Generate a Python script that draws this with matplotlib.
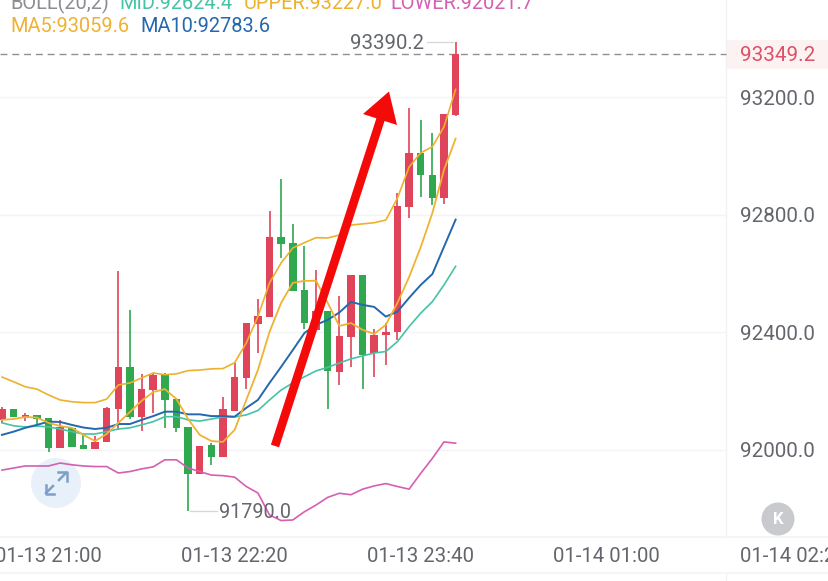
import matplotlib
matplotlib.use("Agg")
import matplotlib.pyplot as plt
from matplotlib.patches import Circle, Polygon, Rectangle

plt.rcParams['font.family'] = ['Roboto', 'DejaVu Sans']

opens = [92101,92138,92110,92119,92108,92005,92074,92015,92001,92025,
         92139,92282,92112,92203,92254,92171,92078,91916,92015,91974,
         92133,92244,92428,92453,92726,92703,92543,92408,92472,92264,
         92385,92596,92328,92390,92399,92828,93010,92937,92856,93139]
closes = [92137,92111,92119,92105,92005,92076,92010,92001,92027,92142,
          92282,92112,92208,92254,92169,92074,91916,92013,91974,92137,
          92246,92432,92455,92726,92700,92539,92432,92473,92267,92387,
          92596,92323,92392,92401,92831,93010,92935,92856,93144,93349]
highs = [92144,92138,92126,92119,92108,92101,92074,92058,92046,92146,
         92609,92476,92258,92261,92262,92175,92078,92013,92021,92178,
         92295,92432,92512,92814,92921,92768,92694,92612,92472,92523,
         92596,92596,92412,92431,92875,93163,93123,93078,93144,93390.2]
lows = [92091,92111,92096,92087,91992,92005,92008,92001,92001,92025,
        92067,92105,92062,92124,92074,92060,91790,91916,91947,91974,
        92133,92205,92330,92453,92652,92539,92410,92408,92137,92221,
        92280,92208,92246,92287,92375,92789,92860,92833,92836,93137]
ma5 = [92101,92104,92111,92109,92091,92080,92074,92050,92029,92053,
       92091,92128,92166,92196,92206,92172,92104,92050,92029,92026,
       92067,92169,92271,92401,92500,92568,92575,92575,92500,92421,
       92431,92408,92394,92425,92500,92588,92690,92806,92953,93059.6]
ma10 = [92050,92061,92074,92084,92095,92094,92084,92075,92070,92074,
        92087,92087,92101,92114,92129,92129,92120,92120,92114,92114,
        92112,92142,92169,92227,92282,92339,92397,92425,92442,92467,
        92503,92493,92486,92453,92470,92517,92561,92598,92691,92783.6]
mid = [92091,92081,92077,92080,92077,92070,92061,92053,92053,92061,
       92070,92074,92084,92095,92112,92112,92101,92097,92104,92111,
       92111,92118,92133,92169,92203,92227,92248,92268,92280,92295,
       92309,92319,92329,92334,92368,92419,92465,92504,92561,92624.4]
upper = [92247,92231,92214,92206,92186,92169,92163,92160,92160,92172,
         92220,92227,92244,92261,92255,92258,92269,92271,92275,92276,
         92296,92363,92453,92568,92636,92687,92705,92722,92721,92731,
         92765,92769,92773,92782,92857,92963,93011,93032,93100,93227.0]
lower = [91930,91937,91944,91944,91944,91954,91948,91944,91942,91942,
         91920,91925,91934,91941,91965,91965,91937,91925,91913,91911,
         91906,91874,91852,91777,91758,91760,91788,91811,91837,91851,
         91846,91865,91876,91884,91874,91865,91919,91970,92026,92021.7]
y_ticks = [92000, 92400, 92800, 93200]
x_tick_pos = [4, 20, 36, 52, 68]
x_tick_labels = ['01-13 21:00', '01-13 22:20', '01-13 23:40', '01-14 01:00', '01-14 02:20']
last_price = 93349.2
high_price = 93390.2
low_price = 91790.0

RED, GREEN = '#e0445a', '#2fa850'
C_UP, C_MA5, C_MA10, C_MID, C_LOW = '#ecb22e', '#efb233', '#2568ad', '#45c3a6', '#d55fb0'
GREY = '#63666c'
YOFF = 6.5   # label baseline nudge in price units

W, H = 829, 581
fig = plt.figure(figsize=(W/100, H/100), dpi=100, facecolor='white')

bg = fig.add_axes([0, 0, 1, 1], zorder=0)
bg.set_xlim(0, W); bg.set_ylim(H, 0); bg.axis('off')
bg.add_patch(Rectangle((726, 40), 103, 29, fc='#fdf2f2', ec='none'))
bg.plot([726, 726], [0, 537], color='#f1f2f4', lw=1)
bg.plot([726, 726], [573, H], color='#f1f2f4', lw=1)
bg.plot([0, W], [537, 537], color='#f3f4f6', lw=1.2)
bg.plot([0, W], [573, 573], color='#f3f4f6', lw=1.2)
bg.add_patch(Circle((56, 483), 25, fc='#e8f1fa', ec='none'))
bg.plot([46, 53], [493, 486], color='#7c9fc9', lw=1.8)
bg.plot([46, 46, 54], [485, 494, 494], color='#7c9fc9', lw=1.8)
bg.plot([59, 66], [480, 473], color='#7c9fc9', lw=1.8)
bg.plot([58, 67, 67], [472, 472, 481], color='#7c9fc9', lw=1.8)

ax = fig.add_axes([0, 0, 1, 1], zorder=1)
ax.patch.set_alpha(0)
ax.set_xlim(-0.172, 71.1)
ax.set_ylim(91552, 93532)
ax.axis('off')

for t in y_ticks:
    ax.plot([-0.172, (726-2)/11.63], [t, t], color='#f3f4f6', lw=1, zorder=1)
    ax.text((739.5-2)/11.63, t-YOFF, f'{t:.1f}', ha='left', va='center', fontsize=14.9, color=GREY)
ax.plot([-0.172, (726-2)/11.63], [last_price]*2, color='#8d8f94', lw=1, dashes=(5, 3.5), zorder=1)
ax.text((739.5-2)/11.63, last_price-YOFF, f'{last_price:.1f}', ha='left', va='center',
        fontsize=14.9, color='#dc5068')

idx = list(range(len(opens)))
for i, o, c, h, l in zip(idx, opens, closes, highs, lows):
    col = RED if c >= o else GREEN
    ax.vlines(i, l, h, color=col, lw=1.2, zorder=3)
    ax.bar(i, abs(c-o), bottom=min(o, c), width=0.64, color=col, lw=0, zorder=3)

ax.plot(idx, lower, color=C_LOW, lw=1.2, zorder=4)
ax.plot(idx, mid, color=C_MID, lw=1.2, zorder=4)
ax.plot(idx, ma10, color=C_MA10, lw=1.4, zorder=4)
ax.plot(idx, upper, color=C_UP, lw=1.2, zorder=4)
ax.plot(idx, ma5, color=C_MA5, lw=1.3, zorder=4)

for p, lab in zip(x_tick_pos, x_tick_labels):
    ax.text(p, 91552 + (581-556)*3.408 - 3, lab, ha='center', va='center', fontsize=14.7, color=GREY)

hi_i = highs.index(high_price)
lo_i = lows.index(low_price)
ax.plot([hi_i-0.25, hi_i-2.5], [high_price]*2, color='#d5d6d9', lw=0.9, zorder=2)
ax.text(hi_i-2.75, high_price-YOFF, f'{high_price:.1f}', ha='right', va='center', fontsize=14.7, color=GREY, zorder=5)
ax.plot([lo_i+0.2, lo_i+2.5], [low_price]*2, color='#d5d6d9', lw=0.9, zorder=2)
ax.text(lo_i+2.65, low_price-YOFF/2, f'{low_price:.1f}', ha='left', va='center', fontsize=14.2, color=GREY, zorder=5)

ov = fig.add_axes([0, 0, 1, 1], zorder=2)
ov.patch.set_alpha(0)
ov.set_xlim(0, W); ov.set_ylim(H, 0); ov.axis('off')
ov.plot([275, 381], [446, 118], color='#f50a0a', lw=6.2, solid_capstyle='butt')
ov.add_patch(Polygon([[389, 91.5], [363, 114], [397, 125]], fc='#f50a0a', ec='none'))
ov.add_patch(Circle((778, 519), 16.5, fc='#c9cacd', ec='none'))
ov.text(778, 519, 'K', ha='center', va='center', fontsize=12, color='white', fontweight='bold')

fs = 14.4
for x, s, c in [(10, 'BOLL(20,2)', '#8b8d92'), (119, 'MID:92624.4', C_MID),
                (244, 'UPPER:93227.0', C_UP), (390, 'LOWER:92021.7', C_LOW)]:
    ov.text(x, 9, s, ha='left', va='baseline', fontsize=fs, color=c)
for x, s, c in [(10, 'MA5:93059.6', C_MA5), (140, 'MA10:92783.6', C_MA10)]:
    ov.text(x, 32, s, ha='left', va='baseline', fontsize=fs, color=c)

fig.savefig('out.png', dpi=100)
